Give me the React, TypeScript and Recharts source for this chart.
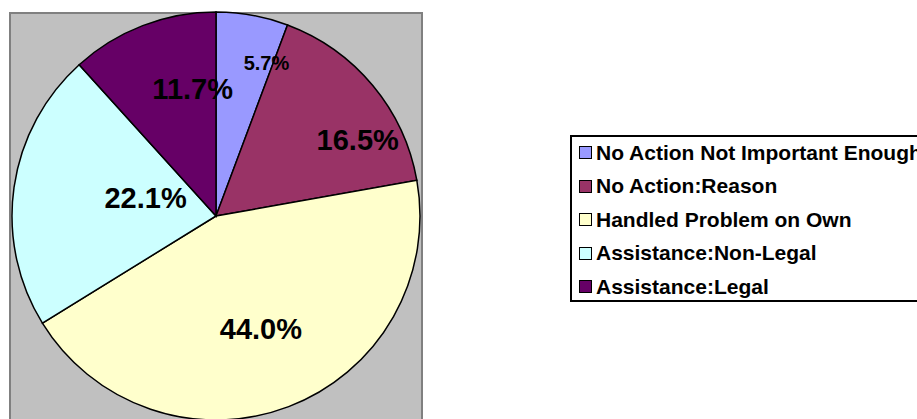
import React from 'react';
import { PieChart, Pie, Cell, Legend } from 'recharts';

const categories = [
  'No Action Not Important Enough',
  'No Action:Reason',
  'Handled Problem on Own',
  'Assistance:Non-Legal',
  'Assistance:Legal',
];
const shares = [5.7, 16.5, 44.0, 22.1, 11.7];
const colors = ['#9999FF', '#993366', '#FFFFCC', '#CCFFFF', '#660066'];

// label tweaks (px), relative to the 0.7r mid-angle position
const labelNudge = [
  [25, -12],
  [32, 15],
  [-6, -20],
  [71, 2],
  [28, 6],
];
const labelSize = [20, 29, 29, 29, 29];

const data = categories.map((name, i) => ({ name, value: shares[i] }));

const FONT = '"Liberation Sans", Arial, sans-serif';
const RADIAN = Math.PI / 180;

const renderLabel = (props: any) => {
  const { cx, cy, midAngle, outerRadius, index, value } = props;
  const r = outerRadius * 0.7;
  const x = cx + r * Math.cos(-midAngle * RADIAN) + labelNudge[index][0];
  const y = cy + r * Math.sin(-midAngle * RADIAN) + labelNudge[index][1];
  return (
    <text
      x={x}
      y={y}
      textAnchor="middle"
      dominantBaseline="central"
      fontFamily={FONT}
      fontWeight="bold"
      fontSize={labelSize[index]}
      fill="#000"
    >
      {value.toFixed(1)}%
    </text>
  );
};

const LegendBox = () => (
  <div
    style={{
      width: 380,
      height: 163,
      border: '2px solid #000',
      background: '#fff',
      fontFamily: FONT,
      fontWeight: 'bold',
      fontSize: 21,
      color: '#000',
      boxSizing: 'content-box',
      whiteSpace: 'nowrap',
    }}
  >
    {categories.map((c, i) => (
      <div key={c} style={{ height: 33.5, display: 'flex', alignItems: 'center', marginTop: i === 0 ? -1 : 0 }}>
        <span
          style={{
            display: 'inline-block',
            width: 11,
            height: 11,
            marginLeft: 7,
            marginRight: 4,
            background: colors[i],
            border: '1.5px solid #000',
          }}
        />
        <span>{c}</span>
      </div>
    ))}
  </div>
);

export default function App() {
  return (
    <div style={{ position: 'fixed', left: 0, top: 0, width: 917, height: 419, overflow: 'hidden', background: '#fff' }}>
      <div
        style={{
          position: 'absolute',
          left: 9,
          top: 12,
          width: 410,
          height: 430,
          background: '#C0C0C0',
          border: '2px solid #808080',
        }}
      />
      <div style={{ position: 'absolute', left: 0, top: 0 }}>
        <PieChart width={917} height={419} margin={{ top: 0, right: 0, bottom: 0, left: 0 }}>
          <Pie
            data={data}
            dataKey="value"
            nameKey="name"
            cx={216}
            cy={216}
            outerRadius={204}
            startAngle={90}
            endAngle={-270}
            stroke="#000"
            strokeWidth={1.5}
            label={renderLabel}
            labelLine={false}
            isAnimationActive={false}
          >
            {data.map((d, i) => (
              <Cell key={d.name} fill={colors[i]} />
            ))}
          </Pie>
          <Legend
            content={() => <LegendBox />}
            wrapperStyle={{ position: 'absolute', left: 570, top: 135, width: 400 }}
          />
        </PieChart>
      </div>
    </div>
  );
}
